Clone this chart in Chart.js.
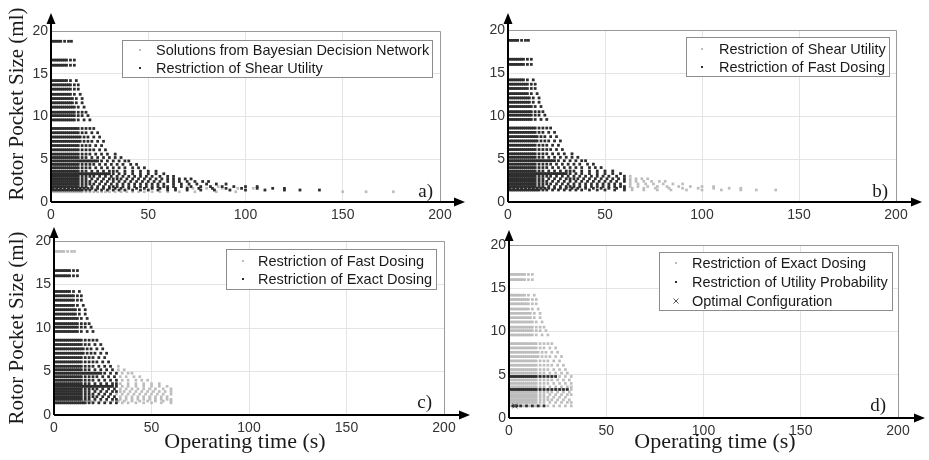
<!DOCTYPE html>
<html>
<head>
<meta charset="utf-8">
<script src="https://cdn.jsdelivr.net/npm/chart.js@4.4.0/dist/chart.umd.min.js"></script>
<style>
  html, body { margin: 0; padding: 0; background: #fff; }
  #wrap { position: relative; width: 929px; height: 460px; overflow: hidden; }
  #wrap canvas { position: absolute; left: 0; top: 0; }
</style>
</head>
<body>
<div id="wrap">
  <canvas id="pa" width="929" height="460"></canvas>
  <canvas id="pb" width="929" height="460"></canvas>
  <canvas id="pc" width="929" height="460"></canvas>
  <canvas id="pd" width="929" height="460"></canvas>
</div>
<script>
// rotor pocket sizes (ml), one row of solutions per size
const pocketSizes = [18.8, 16.6, 16.0, 14.2, 13.7, 13.2, 12.6, 12.1, 11.6, 11.1,
  10.5, 10.1, 9.6, 8.6, 8.1, 7.6, 7.1, 6.6, 6.1, 5.6,
  5.2, 4.8, 4.4, 4.0, 3.6, 3.3, 3.0, 2.7, 2.4, 2.1,
  1.8, 1.6, 1.4, 1.2];

// operating times (s) per pocket size, split by the last restriction a point passes
// passes utility probability too (dark in d)
const utilityTimes = [
  [], [], [], [], [], [], [], [], [], [],
  [], [], [], [], [], [], [], [], [], [],
  [],
  [1,2,3,4,5,6,7,8,9,10,11,12,13,14,16,18,20,22,24],
  [], [], [],
  [1,2,3,4,5,6,7,8,9,10,11,12,13,14,16,18,20,22,24,26,28,30],
  [], [], [], [], [], [],
  [2,3,4,6,9,12,15,18],
  []
];
// passes exact dosing
const exactTimes = [
  [],
  [1,2,3,4,5,6,7,8,10,12],
  [1,2,3,4,5,6,7,8,10,12],
  [1,2,3,4,5,6,7,8,10,13],
  [1,2,3,4,5,6,7,8,9,10,12,14],
  [1,2,3,4,5,6,7,8,9,10,12,14],
  [1,2,3,4,5,6,7,8,9,10,12,15],
  [1,2,3,4,5,6,7,8,9,10,11,13,16],
  [1,2,3,4,5,6,7,8,9,10,11,13,16],
  [1,2,3,4,5,6,7,8,9,10,11,12,14,17],
  [1,2,3,4,5,6,7,8,9,10,11,12,14,16,18],
  [1,2,3,4,5,6,7,8,9,10,11,12,14,16,19],
  [1,2,3,4,5,6,7,8,9,10,11,12,14,17,20],
  [1,2,3,4,5,6,7,8,9,10,11,12,13,14,16,18,20,22],
  [1,2,3,4,5,6,7,8,9,10,11,12,13,14,16,18,21,24],
  [1,2,3,4,5,6,7,8,9,10,11,12,13,14,15,17,19,22,25],
  [1,2,3,4,5,6,7,8,9,10,11,12,13,14,15,17,19,21,24,27],
  [1,2,3,4,5,6,7,8,9,10,11,12,13,14,16,18,20,23,26],
  [1,2,3,4,5,6,7,8,9,10,11,12,13,14,16,18,20,22,25,28],
  [1,2,3,4,5,6,7,8,9,10,11,12,13,14,16,18,20,23,26,29],
  [1,2,3,4,5,6,7,8,9,10,11,12,13,14,16,18,21,24,27,30],
  [15,17,19,21,23,26,29,32],
  [1,2,3,4,5,6,7,8,9,10,11,12,13,14,16,18,20,22,25,28,31],
  [1,2,3,4,5,6,7,8,9,10,11,12,13,14,16,18,20,23,26,29,32],
  [1,2,3,4,5,6,7,8,9,10,11,12,13,14,16,18,21,24,27,30,32],
  [15,17,19,21,23,25,27,29,32],
  [1,2,3,4,5,6,7,8,9,10,11,12,13,14,16,18,20,22,25,28,31],
  [1,2,3,4,5,6,7,8,9,10,11,12,13,14,16,18,21,24,27,30,32],
  [1,2,3,4,5,6,7,8,9,10,11,12,13,14,16,18,20,23,26,29],
  [1,2,3,4,5,6,7,8,9,10,11,12,13,14,16,18,20,22,25,28,31],
  [1,2,3,4,5,6,7,8,9,10,11,12,13,14,16,18,21,24,27,30,32],
  [],
  [1,5,7,8,10,11,13,14,16,20,23,26,29,32],
  []
];
// passes fast dosing
const fastTimes = [
  [1,2,3,4,5,7,9,10.5],
  [], [], [], [], [], [], [], [], [],
  [], [], [], [], [], [], [], [], [],
  [33],
  [33,36],
  [35,38,40],
  [34,37,41,44],
  [35,38,42,45,48],
  [34,38,42,46,50,54],
  [35,38,42,46,50,54,58],
  [34,37,40,43,46,49,52,56,60],
  [34,36,39,42,45,48,51,54,57,60],
  [32,35,38,41,44,47,50,53,56,60],
  [34,37,40,43,46,49,52,55,58],
  [34,37,40,43,46,49,52,55,58,60],
  [1,3,5,7,9,11,13,15,17,19,21,24,27,30,33,36,40,44,48,52,56,60],
  [35,38,42,46,50,55,60],
  []
];
// passes shear utility
const shearTimes = [
  [], [], [], [], [], [], [], [], [], [],
  [], [], [], [], [], [], [], [], [], [],
  [], [], [], [], [], [],
  [63],
  [63,66,69,72],
  [63,66,70,74,78,81],
  [63,67,71,75,80,85,90],
  [63,67,72,77,82,88,94,100,106],
  [64,70,76,83,90,98,106,114,120],
  [64,70,77,84,92,100,110,120,128,138],
  []
];
// Bayesian decision network solutions only
const networkTimes = [
  [], [], [], [], [], [], [], [], [], [],
  [], [], [], [], [], [], [], [], [], [],
  [], [], [], [], [], [], [], [], [], [],
  [70,86],
  [44,52,73,80,88,96,104],
  [],
  [1,2,3,4,5,6,7,8,9,10,11,12,13,14,15,16,18,20,22,24,26,28,30,33,36,39,42,45,48,52,56,60,66,74,85,95,150,162,176]
];
const optimalTime = [3];
const optimalSize = [1.4];

const xTicks = [0, 50, 100, 150, 200];
const yTicks = [0, 5, 10, 15, 20];

const toPoints = (...groups) => {
  const pts = [];
  groups.forEach(g => g.forEach((row, i) => row.forEach(x => pts.push({ x: x, y: pocketSizes[i] }))));
  return pts;
};

const LIGHT = '#bdbdbd';
const DARK = '#2e2e2e';
const SANS = "'Liberation Sans', Arial, sans-serif";
const SERIF = "'Liberation Serif', 'Times New Roman', serif";

const panels = [
  {
    id: 'pa', box: { l: 51, r: 440, t: 31, b: 202 }, tipX: 465, tipY: 13,
    light: toPoints(networkTimes, shearTimes, fastTimes, exactTimes, utilityTimes),
    dark: toPoints(shearTimes, fastTimes, exactTimes, utilityTimes),
    labels: ['Solutions from Bayesian Decision Network', 'Restriction of Shear Utility'],
    legend: { x: 122, y: 40, w: 310, h: 37, rows: [50, 68], mx: 140, tx: 156 },
    tag: { text: 'a)', x: 433, y: 197 },
    yTitle: { x: 17, y: 104 }
  },
  {
    id: 'pb', box: { l: 508, r: 896, t: 30, b: 202 }, tipX: 922, tipY: 13,
    light: toPoints(shearTimes, fastTimes, exactTimes, utilityTimes),
    dark: toPoints(fastTimes, exactTimes, utilityTimes),
    labels: ['Restriction of Shear Utility', 'Restriction of Fast Dosing'],
    legend: { x: 686, y: 37, w: 203, h: 39, rows: [49, 67], mx: 702, tx: 719 },
    tag: { text: 'b)', x: 888, y: 197 }
  },
  {
    id: 'pc', box: { l: 54, r: 444, t: 241, b: 415 }, tipX: 470, tipY: 227,
    light: toPoints(fastTimes, exactTimes, utilityTimes),
    dark: toPoints(exactTimes, utilityTimes),
    labels: ['Restriction of Fast Dosing', 'Restriction of Exact Dosing'],
    legend: { x: 226, y: 249, w: 210, h: 40, rows: [261, 279], mx: 243, tx: 258 },
    tag: { text: 'c)', x: 432, y: 408 },
    yTitle: { x: 17, y: 328 },
    xTitle: { x: 245, y: 442 }
  },
  {
    id: 'pd', box: { l: 509, r: 898, t: 245, b: 418 }, tipX: 925, tipY: 230,
    light: toPoints(exactTimes, utilityTimes),
    dark: toPoints(utilityTimes),
    optimal: optimalTime.map((x, i) => ({ x: x, y: optimalSize[i] })),
    labels: ['Restriction of Exact Dosing', 'Restriction of Utility Probability', 'Optimal Configuration'],
    legend: { x: 659, y: 252, w: 233, h: 58, rows: [263, 282, 301], mx: 676, tx: 692 },
    tag: { text: 'd)', x: 886, y: 411 },
    xTitle: { x: 715, y: 442 }
  }
];

function drawCross(ctx, x, y, s) {
  ctx.beginPath();
  ctx.moveTo(x - s, y - s); ctx.lineTo(x + s, y + s);
  ctx.moveTo(x - s, y + s); ctx.lineTo(x + s, y - s);
  ctx.stroke();
}

function decorations(p) {
  return {
    id: 'decor_' + p.id,
    afterDatasetsDraw(chart) {
      const ctx = chart.ctx;
      const { l, r, t, b } = p.box;
      ctx.save();
      // grey box top / right
      ctx.strokeStyle = '#9a9a9a';
      ctx.lineWidth = 1;
      ctx.beginPath();
      ctx.moveTo(l, t + 0.5); ctx.lineTo(r + 0.5, t + 0.5); ctx.lineTo(r + 0.5, b);
      ctx.stroke();
      // black axes with arrow heads
      ctx.strokeStyle = '#000';
      ctx.fillStyle = '#000';
      ctx.lineWidth = 2;
      ctx.beginPath();
      ctx.moveTo(l, b); ctx.lineTo(p.tipX - 8, b);
      ctx.moveTo(l, b); ctx.lineTo(l, p.tipY + 8);
      ctx.stroke();
      ctx.beginPath();
      ctx.moveTo(p.tipX, b); ctx.lineTo(p.tipX - 11, b - 4.5); ctx.lineTo(p.tipX - 11, b + 4.5);
      ctx.closePath(); ctx.fill();
      ctx.beginPath();
      ctx.moveTo(l, p.tipY); ctx.lineTo(l - 4.5, p.tipY + 11); ctx.lineTo(l + 4.5, p.tipY + 11);
      ctx.closePath(); ctx.fill();

      // legend
      const lg = p.legend;
      ctx.fillStyle = '#fff';
      ctx.fillRect(lg.x, lg.y, lg.w, lg.h);
      ctx.strokeStyle = '#8c8c8c';
      ctx.lineWidth = 1;
      ctx.strokeRect(lg.x + 0.5, lg.y + 0.5, lg.w, lg.h);
      ctx.font = '14.5px ' + SANS;
      ctx.textBaseline = 'middle';
      ctx.textAlign = 'left';
      p.labels.forEach((txt, i) => {
        const y = lg.rows[i];
        if (i === 0) {
          ctx.fillStyle = LIGHT; ctx.fillRect(lg.mx - 1, y - 1, 2, 2);
        } else if (i === 1) {
          ctx.fillStyle = DARK; ctx.fillRect(lg.mx - 1, y - 1, 2, 2);
        } else {
          ctx.strokeStyle = '#555'; ctx.lineWidth = 1; drawCross(ctx, lg.mx, y, 2.5);
        }
        ctx.fillStyle = '#1a1a1a';
        ctx.fillText(txt, lg.tx, y + 1);
      });

      // panel tag
      ctx.font = '19px ' + SERIF;
      ctx.textAlign = 'right';
      ctx.textBaseline = 'alphabetic';
      ctx.fillStyle = '#1a1a1a';
      ctx.fillText(p.tag.text, p.tag.x, p.tag.y);

      // axis titles
      if (p.yTitle) {
        ctx.save();
        ctx.translate(p.yTitle.x, p.yTitle.y);
        ctx.rotate(-Math.PI / 2);
        ctx.font = '21px ' + SERIF;
        ctx.textAlign = 'center';
        ctx.textBaseline = 'middle';
        ctx.fillText('Rotor Pocket Size (ml)', 0, 0);
        ctx.restore();
      }
      if (p.xTitle) {
        ctx.font = '22px ' + SERIF;
        ctx.textAlign = 'center';
        ctx.textBaseline = 'middle';
        ctx.fillText('Operating time (s)', p.xTitle.x, p.xTitle.y);
      }
      ctx.restore();
    }
  };
}

panels.forEach(p => {
  // Chart.js paints the first dataset last, so the dark subset goes first to sit on top
  const datasets = [];
  if (p.optimal) {
    datasets.push({ label: p.labels[2], data: p.optimal, pointStyle: 'crossRot', pointRadius: 3.5, borderColor: '#555', borderWidth: 1 });
  }
  datasets.push({ label: p.labels[1], data: p.dark, backgroundColor: DARK, pointStyle: 'rect', pointRadius: 1.9, borderWidth: 0 });
  datasets.push({ label: p.labels[0], data: p.light, backgroundColor: LIGHT, pointStyle: 'rect', pointRadius: 1.9, borderWidth: 0 });

  new Chart(document.getElementById(p.id), {
    type: 'scatter',
    data: { datasets: datasets },
    options: {
      responsive: false,
      animation: false,
      events: [],
      // the y scale takes the strip left of the plot, the x scale the strip below it
      layout: { padding: { left: 0, right: 929 - p.box.r, top: p.box.t, bottom: 0 } },
      scales: {
        x: {
          type: 'linear', min: 0, max: 200,
          afterFit: s => { s.height = 460 - p.box.b; },
          afterBuildTicks: s => { s.ticks = xTicks.map(v => ({ value: v })); },
          grid: { color: '#e4e4e4', drawTicks: false },
          border: { display: false },
          ticks: { color: '#333', padding: 5, maxRotation: 0, autoSkip: false, font: { family: SANS, size: 14 } }
        },
        y: {
          type: 'linear', min: 0, max: 20,
          afterFit: s => { s.width = p.box.l; },
          afterBuildTicks: s => { s.ticks = yTicks.map(v => ({ value: v })); },
          grid: { color: '#e4e4e4', drawTicks: false },
          border: { display: false },
          ticks: { color: '#333', padding: 3, autoSkip: false, font: { family: SANS, size: 14 } }
        }
      },
      plugins: { legend: { display: false }, tooltip: { enabled: false } }
    },
    plugins: [decorations(p)]
  });
});
</script>
</body>
</html>
